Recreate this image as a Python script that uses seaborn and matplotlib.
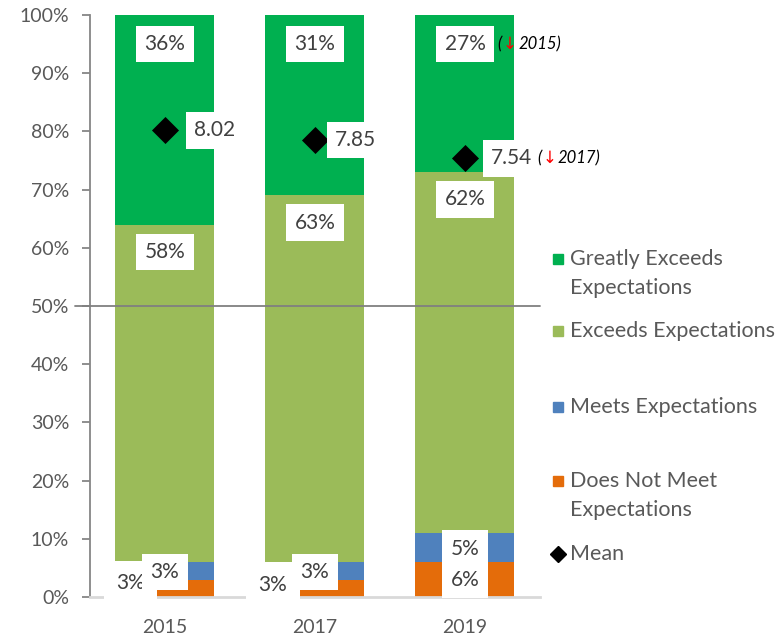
import numpy as np
import seaborn as sns
import matplotlib.pyplot as plt
from matplotlib.patches import Rectangle
from matplotlib.lines import Line2D
from matplotlib.offsetbox import TextArea, HPacker, AnnotationBbox

# --- data ---
years = ['2015', '2017', '2019']
does_not_meet = [3, 3, 6]
meets = [3, 3, 5]
exceeds = [58, 63, 62]
greatly_exceeds = [36, 31, 27]
mean_score = [8.02, 7.85, 7.54]

series_names = ['Does Not Meet\nExpectations', 'Meets Expectations',
                'Exceeds Expectations', 'Greatly Exceeds\nExpectations']
colors = ['#E46C0A', '#4F81BD', '#9BBB59', '#00B050']

sns.set_theme(style='white')
plt.rcParams['font.family'] = ['Lato', 'DejaVu Sans']

W, H = 779, 640
fig = plt.figure(figsize=(W / 100, H / 100), dpi=100)
ax = fig.add_axes([90 / W, 43 / H, 450 / W, 582 / H])

# stacked bars: draw cumulative totals from the top layer down
layers = np.array([does_not_meet, meets, exceeds, greatly_exceeds])
cum = np.cumsum(layers, axis=0)
for i in range(3, -1, -1):
    sns.barplot(x=years, y=cum[i], color=colors[i], width=0.66,
                saturation=1, linewidth=0, ax=ax, zorder=2)

# mean shown as score * 10 on the percent scale
sns.scatterplot(x=years, y=np.array(mean_score) * 10, marker='D', s=190,
                color='black', linewidth=0, ax=ax, zorder=5, legend=False)

ax.set_ylim(0, 100)
ax.set_xlim(-0.5, 2.5)
ax.set_yticks(range(0, 101, 10))
ax.set_yticklabels([f'{v}%' for v in range(0, 101, 10)])
ax.tick_params(axis='y', left=True, length=6, width=1.3, color='#868686',
               labelsize=14, labelcolor='#595959', pad=9)
ax.tick_params(axis='x', bottom=False, labelsize=14, labelcolor='#595959', pad=10)
ax.set_xlabel('')
ax.set_ylabel('')
for s in ['top', 'right']:
    ax.spines[s].set_visible(False)
ax.spines['left'].set_color('#868686')
ax.spines['left'].set_linewidth(1.3)
ax.spines['bottom'].set_color('#D9D9D9')
ax.spines['bottom'].set_linewidth(2)
ax.axhline(50, xmin=-0.033, xmax=1, color='#808080', lw=1.3, clip_on=False, zorder=3)

# data labels
box = dict(boxstyle='square,pad=0.4', fc='white', ec='none')
lab = dict(color='#404040', fontsize=15, ha='center', va='center', bbox=box, zorder=6)
dn_lab = dict(lab, bbox=dict(boxstyle='square,pad=0.6', fc='white', ec='none'))
dn_dx = [-0.23, -0.28, 0]
dn_dy = [0.9, 0.6, 0]
mean_dx = [0.33, 0.27, 0.31]
for i in range(3):
    ax.text(i, 100 - 5, f'{greatly_exceeds[i]}%', **lab)
    ax.text(i, cum[2][i] - 4.7, f'{exceeds[i]}%', **lab)
    ax.text(i + dn_dx[i], does_not_meet[i] / 2 + dn_dy[i], f'{does_not_meet[i]}%',
            **(dn_lab if dn_dx[i] else lab))
    ax.text(i, cum[0][i] + meets[i] / 2 - 0.2, f'{meets[i]}%', **lab)
    ax.text(i + mean_dx[i], mean_score[i] * 10, f'{mean_score[i]:.2f}', **lab)


def change_note(x, y, ref):
    tp = dict(fontsize=12, style='italic', color='black')
    parts = [TextArea('(', textprops=tp),
             TextArea('\u2193', textprops=dict(fontsize=12, color='red', family=['DejaVu Sans'])),
             TextArea(ref + ')', textprops=tp)]
    pack = HPacker(children=parts, align='baseline', pad=0, sep=1)
    ab = AnnotationBbox(pack, (x, y), box_alignment=(0, 0.5), frameon=False,
                        pad=0, zorder=7, annotation_clip=False)
    ax.add_artist(ab)


change_note(2.215, 95, '2015')
change_note(2.48, 75.4, '2017')

# legend drawn by hand to mimic the spacing
leg_rows = [(3, 259), (2, 331), (1, 407), (0, 481)]
for idx, yp in leg_rows:
    fig.patches.append(Rectangle((553 / W, 1 - (yp + 5) / H), 10 / W, 10 / H,
                                 transform=fig.transFigure, color=colors[idx]))
    for k, line in enumerate(series_names[idx].split('\n')):
        fig.text(570 / W, 1 - (yp + 29 * k) / H, line, fontsize=15.5,
                 color='#595959', va='center', ha='left')
fig.lines.append(Line2D([558 / W], [1 - 554 / H], marker='D', markersize=8,
                        color='black', transform=fig.transFigure))
fig.text(570 / W, 1 - 554 / H, 'Mean', fontsize=15.5, color='#595959', va='center', ha='left')

fig.savefig('out.png', dpi=100)
